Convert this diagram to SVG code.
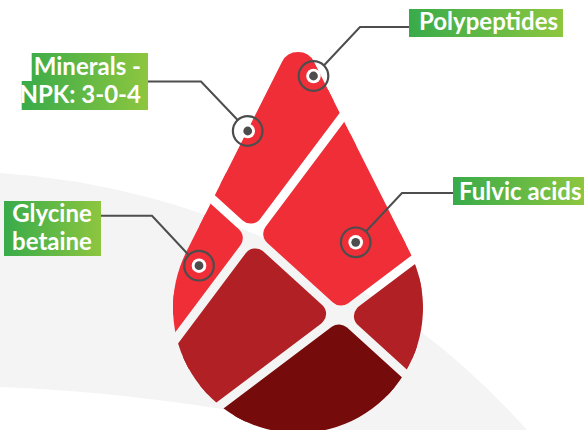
<svg xmlns="http://www.w3.org/2000/svg" xmlns:xlink="http://www.w3.org/1999/xlink" width="584" height="430" viewBox="0 0 584 430">
<style>
.seg{stroke-width:24;stroke-linejoin:round}
.red{fill:#ef2e37;stroke:#ef2e37}
.mid{fill:#b12024;stroke:#b12024}
.dark{fill:#760b0b;stroke:#760b0b}
.lbl{fill:#ffffff;font-family:Lato,"Open Sans",sans-serif;font-weight:700;font-size:24px}
.conn{fill:none;stroke:#4d4d4d;stroke-width:2}
</style>
<defs>
<linearGradient id="g" x1="0" y1="0" x2="1" y2="0">
<stop offset="0" stop-color="#38ab4a"/>
<stop offset="1" stop-color="#8dc63f"/>
</linearGradient>
<clipPath id="drop">
<path d="M281.92,61.94 A18,18 0 0 1 314.08,61.94 L409.65,251.8 A125,125 0 1 1 186.35,251.8 Z"/>
</clipPath>
<g id="pin">
<circle r="14.8" fill="none" stroke="#4d4d4d" stroke-width="2.2"/>
<circle r="7.3" fill="#ffffff"/>
<circle r="4.4" fill="#4d4d4d"/>
</g>
</defs>
<rect width="584" height="430" fill="#ffffff"/>
<path d="M0,173 A774,774 0 0 1 527,430 L340,430 Q150,392 0,387 Z" fill="#f4f4f4"/>
<g id="drop-segments" clip-path="url(#drop)">
<path id="seg-top" class="seg red" d="M250.7,211.6 L430.7,-28.4 L28.7,-28.4 L28.7,10 Z"/>
<path id="seg-glycine" class="seg red" d="M230.8,238.1 L8.8,36.5 L-100,36.5 L-100,478.1 L50.8,478.1 Z"/>
<path id="seg-fulvic" class="seg red" d="M275.2,233.9 L455.2,-6.1 L700,-6.1 L660.4,52.9 L341,293.6 Z"/>
<path id="seg-midleft" class="seg mid" d="M255.3,260.4 L314.1,313.8 L154.4,434.2 L135.3,420.4 Z"/>
<path id="seg-right" class="seg mid" d="M365.9,316.2 L525.6,195.8 L600,300 L513.9,450.6 Z"/>
<path id="seg-bottom" class="seg dark" d="M339,336.4 L179.3,456.8 L300,600 L487,470.8 Z"/>
</g>
<g id="connectors">
<path class="conn" d="M409,27 H360 L324.1,65.2"/>
<path class="conn" d="M148,81.5 H201 L237.9,120.2"/>
<path class="conn" d="M101,215.7 H152 L188.9,255.2"/>
<path class="conn" d="M453,193 H402 L366.1,231.2"/>
</g>
<g id="polypeptides">
<use xlink:href="#pin" x="313.5" y="76"/>
<rect x="409" y="9" width="154" height="28" fill="url(#g)"/>
<text class="lbl" x="419" y="30">Polypeptides</text>
</g>
<g id="minerals">
<use xlink:href="#pin" x="247.7" y="131"/>
<path d="M31.7,53 H148 V110 H21.7 V81 H31.7 Z" fill="url(#g)"/>
<text class="lbl" x="141" y="75" text-anchor="end">Minerals -</text>
<text class="lbl" x="141" y="103" text-anchor="end">NPK: 3-0-4</text>
</g>
<g id="glycine">
<use xlink:href="#pin" x="199" y="265.7"/>
<rect x="4" y="201" width="97" height="55" fill="url(#g)"/>
<text class="lbl" x="52" y="222" text-anchor="middle">Glycine</text>
<text class="lbl" x="52" y="250" text-anchor="middle">betaine</text>
</g>
<g id="fulvic">
<use xlink:href="#pin" x="355.7" y="242.3"/>
<rect x="453" y="177" width="131" height="28" fill="url(#g)"/>
<text class="lbl" x="459" y="200">Fulvic acids</text>
</g>
</svg>
